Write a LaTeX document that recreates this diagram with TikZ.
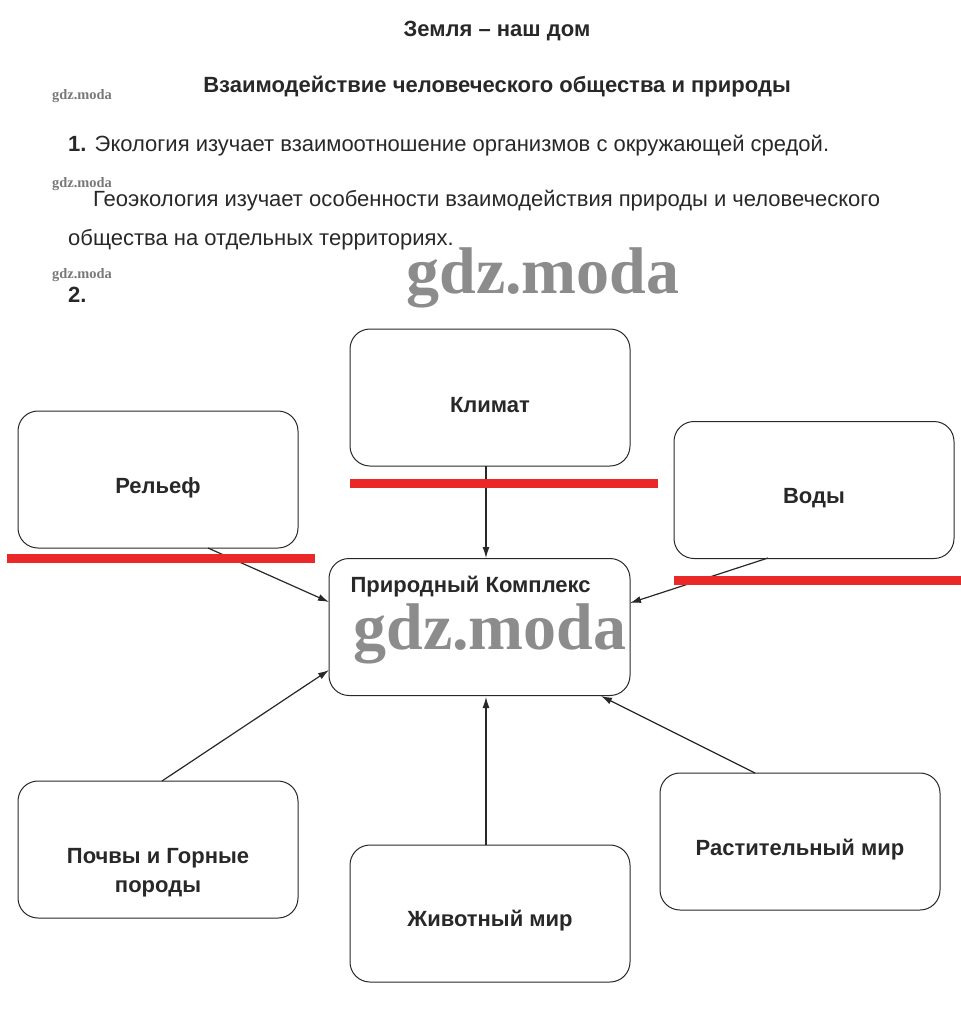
\documentclass[tikz,border=0pt]{standalone}
\usepackage{fontspec}
\setmainfont{Liberation Sans}
\newfontfamily\wmfont{Liberation Serif}
\usetikzlibrary{arrows.meta}
\definecolor{boxline}{RGB}{40,40,40}
\definecolor{redbar}{RGB}{235,40,40}
\definecolor{wmgray}{RGB}{120,120,120}
\tikzset{
  blk/.style={draw=boxline, line width=1pt, rounded corners=20pt, minimum width=280pt, minimum height=137pt, inner sep=0pt},
  lbl/.style={font=\bfseries\fontsize{22}{29}\selectfont, text=boxline, align=center},
  arr/.style={draw=boxline, line width=1.2pt, -{Latex[length=11pt,width=7pt]}},
  bar/.style={draw=redbar, line width=9pt},
  txt/.style={font=\fontsize{22}{26}\selectfont, text=boxline, anchor=base west, inner sep=0pt},
  smallwm/.style={font=\wmfont\bfseries\fontsize{14.4}{16}\selectfont, text=wmgray, anchor=base west, inner sep=0pt},
  bigwm/.style={font=\wmfont\bfseries\fontsize{66}{70}\selectfont, text=wmgray!85, inner sep=0pt}
}
\begin{document}
\begin{tikzpicture}[x=1pt,y=-1pt]
\useasboundingbox (0,0) rectangle (961,1034);
% headings
\node[font=\bfseries\fontsize{22}{26}\selectfont, text=boxline] (title) at (497,31) {Земля – наш дом};
\node[font=\bfseries\fontsize{22}{26}\selectfont, text=boxline] (sub) at (497,87) {Взаимодействие человеческого общества и природы};
\node[txt] (l1) at (68,151) {\textbf{1.} Экология изучает взаимоотношение организмов с окружающей средой.};
\node[txt] (l2) at (93,206) {Геоэкология изучает особенности взаимодействия природы и человеческого};
\node[txt] (l3) at (68,245) {общества на отдельных территориях.};
\node[txt] (l4) at (68,302) {\textbf{2.}};
\node[smallwm] (w1) at (52,99) {gdz.moda};
\node[smallwm] (w2) at (52,187) {gdz.moda};
\node[smallwm] (w3) at (52,278) {gdz.moda};
% boxes
\node[blk] (klimat) at (490,397.5) {};
\node[lbl] at (490,405) {Климат};
\node[blk] (relief) at (158,479.5) {};
\node[lbl] at (158,488) {Рельеф};
\node[blk] (vody) at (814,490) {};
\node[lbl] at (814,498) {Воды};
\node[blk, minimum width=301pt] (pk) at (479.5,627) {};
\node[lbl, anchor=west] at (347,587) {Природный Комплекс};
\node[blk] (pochvy) at (158,849.5) {};
\node[lbl] at (158,873) {Почвы и Горные\\породы};
\node[blk] (zhiv) at (490,913.5) {};
\node[lbl] at (490,921) {Животный мир};
\node[blk] (rast) at (800,841.5) {};
\node[lbl] at (800,850) {Растительный мир};
% arrows
\coordinate (kA) at (486,466);
\coordinate (kB) at (486,558);
\draw[arr] (kA) -- (kB);
\coordinate (rA) at (208,548);
\coordinate (rB) at (329,602);
\draw[arr] (rA) -- (rB);
\coordinate (vA) at (768,558);
\coordinate (vB) at (630,603);
\draw[arr] (vA) -- (vB);
\coordinate (pA) at (162,781);
\coordinate (pB) at (329,670);
\draw[arr] (pA) -- (pB);
\coordinate (zA) at (486,845);
\coordinate (zB) at (486,697);
\draw[arr] (zA) -- (zB);
\coordinate (sA) at (755,773);
\coordinate (sB) at (601,696);
\draw[arr] (sA) -- (sB);
% red bars
\draw[bar] (350,483) -- (658,483);
\draw[bar] (7,558) -- (315,558);
\draw[bar] (674,580) -- (961,580);
% big watermarks
\node[bigwm] (bw1) at (543,278) {gdz.moda};
\node[bigwm] (bw2) at (490,634) {gdz.moda};
\end{tikzpicture}
\end{document}
